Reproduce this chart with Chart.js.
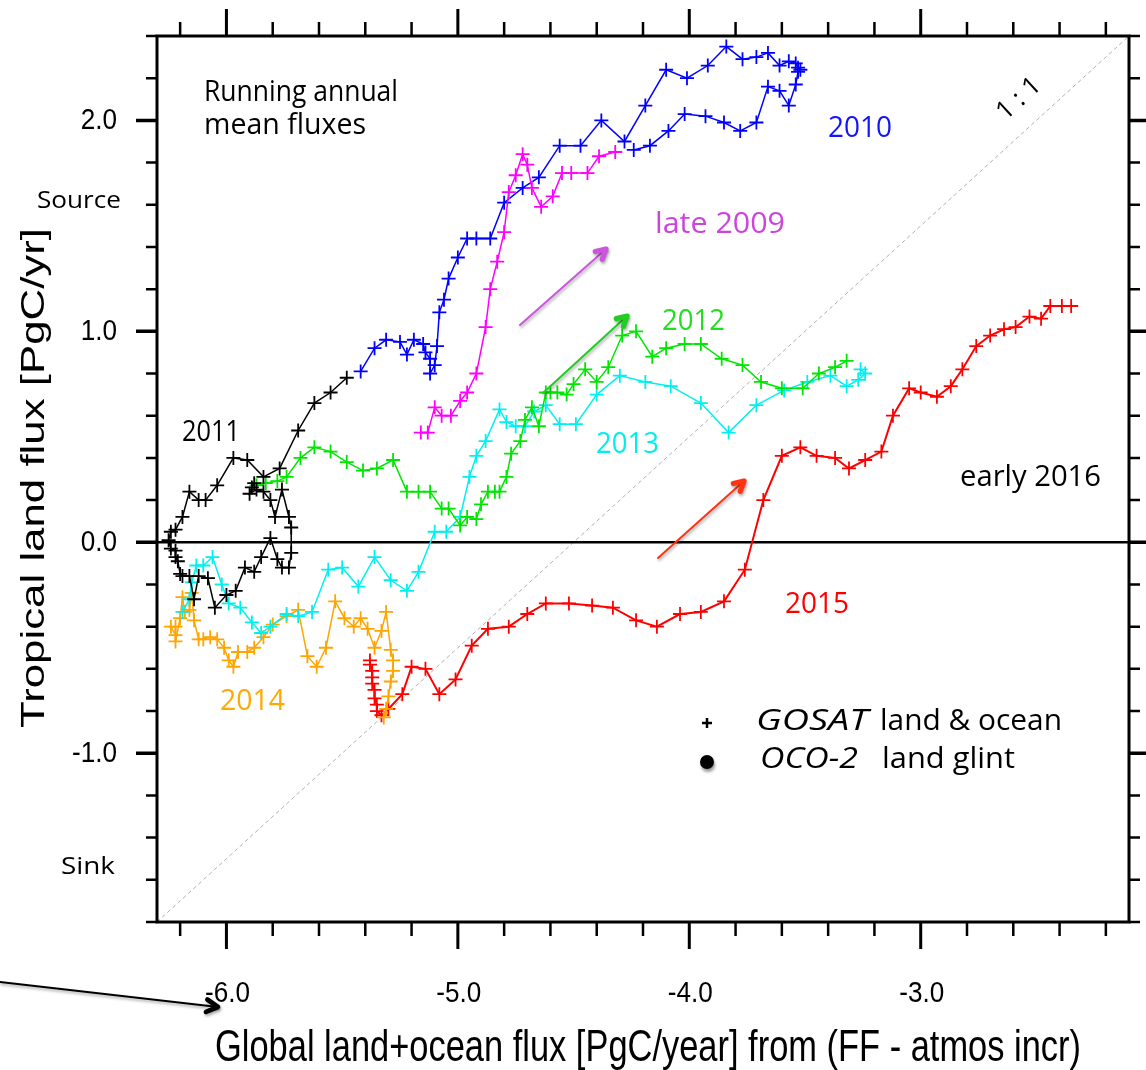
<!DOCTYPE html>
<html>
<head>
<meta charset="utf-8">
<script src="https://cdn.jsdelivr.net/npm/chart.js@4.4.1/dist/chart.umd.min.js"></script>
<style>
html, body { margin: 0; padding: 0; background: #fff; }
#wrap { width: 1146px; height: 1070px; }
</style>
</head>
<body>
<div id="wrap"><canvas id="fluxChart" width="1146" height="1070"></canvas></div>
<script>
// axes
var xMin = -6.3, xMax = -2.1;
var yMin = -1.8, yMax = 2.4;
var xTickValues = [-6, -5, -4, -3];
var xTickLabels = ["-6.0", "-5.0", "-4.0", "-3.0"];
var yTickValues = [-1, 0, 1, 2];
var yTickLabels = ["-1.0", "0.0", "1.0", "2.0"];
var minorStep = 0.2;

// late 2009
var late2009X = [-5.16,-5.13,-5.10,-5.07,-5.03,-4.99,-4.96,-4.92,-4.88,-4.86,-4.83,-4.80,-4.78,-4.75,-4.72,-4.70,-4.68,-4.64,-4.59,-4.55,-4.51,-4.44,-4.39,-4.32];
var late2009Y = [0.52,0.52,0.64,0.60,0.60,0.67,0.71,0.80,1.02,1.20,1.33,1.47,1.66,1.74,1.84,1.79,1.68,1.59,1.64,1.75,1.75,1.75,1.83,1.85];

// 2010
var y2010X = [-4.24,-4.17,-4.09,-4.02,-3.93,-3.85,-3.78,-3.71,-3.66,-3.61,-3.57,-3.54,-3.53,-3.52,-3.53,-3.54,-3.57,-3.61,-3.66,-3.71,-3.77,-3.84,-3.92,-4.01,-4.10,-4.19,-4.28,-4.38,-4.47,-4.56,-4.65,-4.72,-4.80,-4.86,-4.92,-4.96,-5.00,-5.04,-5.06,-5.08,-5.09,-5.10,-5.12,-5.12,-5.14,-5.15,-5.19,-5.22,-5.25,-5.31,-5.36,-5.42];
var y2010Y = [1.86,1.88,1.95,2.03,2.02,1.99,1.95,1.99,2.16,2.14,2.07,2.17,2.23,2.24,2.25,2.27,2.28,2.26,2.32,2.30,2.29,2.35,2.26,2.20,2.24,2.07,1.90,2.00,1.88,1.88,1.73,1.68,1.61,1.44,1.44,1.44,1.35,1.25,1.15,1.09,0.93,0.84,0.80,0.87,0.90,0.94,0.96,0.89,0.95,0.96,0.92,0.81];

// 2011
var y2011X = [-5.48,-5.55,-5.62,-5.69,-5.77,-5.84,-5.91,-5.97,-6.04,-6.09,-6.12,-6.16,-6.19,-6.22,-6.24,-6.25,-6.24,-6.22,-6.22,-6.21,-6.20,-6.19,-6.16,-6.14,-6.12,-6.08,-6.05,-6.00,-5.96,-5.92,-5.88,-5.85,-5.81,-5.78,-5.76,-5.73,-5.72,-5.72,-5.73,-5.76,-5.79,-5.81,-5.84,-5.87,-5.90,-5.89,-5.88];
var y2011Y = [0.78,0.71,0.66,0.53,0.35,0.31,0.39,0.40,0.27,0.20,0.20,0.24,0.12,0.06,0.05,0.01,-0.03,-0.04,-0.07,-0.09,-0.15,-0.16,-0.16,-0.27,-0.16,-0.17,-0.31,-0.25,-0.23,-0.12,-0.14,-0.07,0.02,-0.08,-0.12,-0.12,-0.05,0.07,0.12,0.25,0.12,0.20,0.24,0.25,0.23,0.26,0.28];

// 2012
var y2012X = [-5.87,-5.83,-5.78,-5.74,-5.68,-5.62,-5.55,-5.48,-5.41,-5.35,-5.28,-5.22,-5.17,-5.12,-5.07,-5.04,-4.99,-4.96,-4.92,-4.90,-4.87,-4.84,-4.82,-4.79,-4.77,-4.73,-4.71,-4.68,-4.65,-4.62,-4.60,-4.57,-4.53,-4.50,-4.45,-4.40,-4.35,-4.29,-4.23,-4.16,-4.10,-4.02,-3.95,-3.86,-3.77,-3.69,-3.60,-3.51,-3.44,-3.37,-3.32];
var y2012Y = [0.27,0.28,0.29,0.31,0.40,0.45,0.43,0.38,0.34,0.35,0.39,0.24,0.24,0.24,0.16,0.16,0.08,0.12,0.11,0.18,0.24,0.24,0.24,0.31,0.42,0.48,0.58,0.64,0.55,0.71,0.71,0.71,0.70,0.75,0.82,0.76,0.83,0.98,1.00,0.88,0.92,0.94,0.94,0.87,0.84,0.76,0.73,0.73,0.80,0.83,0.86];

// 2013
var y2013X = [-3.26,-3.24,-3.27,-3.32,-3.39,-3.49,-3.59,-3.71,-3.83,-3.95,-4.08,-4.19,-4.30,-4.40,-4.49,-4.56,-4.62,-4.67,-4.71,-4.75,-4.79,-4.82,-4.88,-4.92,-4.95,-4.99,-5.05,-5.10,-5.17,-5.22,-5.29,-5.36,-5.43,-5.50,-5.56,-5.63,-5.69,-5.74,-5.81,-5.85,-5.89,-5.94,-5.99,-6.02,-6.06,-6.10,-6.13,-6.15,-6.16,-6.19];
var y2013Y = [0.82,0.80,0.77,0.74,0.79,0.76,0.72,0.65,0.52,0.66,0.74,0.76,0.79,0.70,0.56,0.56,0.65,0.62,0.55,0.55,0.57,0.63,0.48,0.41,0.31,0.12,0.05,0.05,-0.14,-0.23,-0.18,-0.07,-0.21,-0.12,-0.13,-0.33,-0.35,-0.34,-0.40,-0.43,-0.38,-0.31,-0.29,-0.20,-0.07,-0.11,-0.11,-0.19,-0.27,-0.33];

// 2014
var y2014X = [-6.22,-6.24,-6.22,-6.22,-6.20,-6.19,-6.18,-6.16,-6.15,-6.14,-6.12,-6.10,-6.07,-6.04,-6.01,-5.99,-5.97,-5.95,-5.91,-5.88,-5.84,-5.80,-5.74,-5.69,-5.65,-5.61,-5.57,-5.53,-5.49,-5.45,-5.42,-5.39,-5.36,-5.33,-5.31,-5.29,-5.28,-5.28,-5.29,-5.30,-5.31,-5.32];
var y2014Y = [-0.40,-0.40,-0.44,-0.47,-0.36,-0.26,-0.33,-0.32,-0.24,-0.37,-0.46,-0.46,-0.45,-0.46,-0.50,-0.56,-0.59,-0.52,-0.52,-0.50,-0.45,-0.39,-0.35,-0.32,-0.54,-0.59,-0.50,-0.28,-0.36,-0.40,-0.36,-0.41,-0.50,-0.42,-0.33,-0.51,-0.56,-0.61,-0.66,-0.73,-0.79,-0.83];

// 2015 to early 2016
var y2015X = [-5.38,-5.38,-5.37,-5.37,-5.37,-5.36,-5.36,-5.35,-5.35,-5.33,-5.30,-5.24,-5.20,-5.14,-5.08,-5.01,-4.94,-4.87,-4.78,-4.70,-4.62,-4.52,-4.42,-4.33,-4.23,-4.14,-4.04,-3.95,-3.85,-3.76,-3.68,-3.60,-3.52,-3.45,-3.37,-3.31,-3.24,-3.17,-3.12,-3.05,-3.00,-2.93,-2.87,-2.82,-2.76,-2.70,-2.64,-2.59,-2.53,-2.48,-2.44,-2.39,-2.35];
var y2015Y = [-0.56,-0.58,-0.61,-0.64,-0.67,-0.70,-0.74,-0.77,-0.80,-0.82,-0.79,-0.72,-0.59,-0.60,-0.72,-0.65,-0.49,-0.41,-0.40,-0.34,-0.29,-0.29,-0.30,-0.31,-0.37,-0.40,-0.34,-0.33,-0.28,-0.13,0.20,0.41,0.45,0.41,0.40,0.35,0.39,0.43,0.60,0.73,0.71,0.69,0.74,0.82,0.93,0.98,1.01,1.02,1.07,1.06,1.12,1.12,1.12];

function pts(xs, ys) {
  var out = [];
  for (var i = 0; i < xs.length; i++) out.push({ x: xs[i], y: ys[i] });
  return out;
}

function series(xs, ys, color, lw) {
  return {
    data: pts(xs, ys),
    showLine: true,
    borderColor: color,
    backgroundColor: color,
    borderWidth: lw || 1.5,
    pointStyle: 'cross',
    pointRadius: 7,
    pointBorderWidth: 1.8,
    pointHoverRadius: 7,
    tension: 0
  };
}

var annoFont = '"Comic Sans MS", "Open Sans", sans-serif';
var axisFont = '"Liberation Sans", Arial, sans-serif';

// text squeezed or stretched to a given width
function fitText(ctx, str, x, y, width, font, color, align) {
  ctx.save();
  ctx.font = font;
  var s = width / ctx.measureText(str).width;
  ctx.translate(x, y);
  ctx.scale(s, 1);
  ctx.textAlign = align || 'left';
  ctx.textBaseline = 'middle';
  ctx.fillStyle = color || '#000';
  ctx.fillText(str, 0, 0);
  ctx.restore();
}

function arrow(ctx, x1, y1, x2, y2, color, lw, head, shadow) {
  var a = Math.atan2(y2 - y1, x2 - x1);
  ctx.save();
  ctx.strokeStyle = color;
  ctx.lineCap = 'round';
  ctx.lineJoin = 'round';
  if (shadow) {
    ctx.shadowColor = 'rgba(0,0,0,0.35)';
    ctx.shadowBlur = 3;
    ctx.shadowOffsetX = 1;
    ctx.shadowOffsetY = 2;
  }
  ctx.lineWidth = lw;
  ctx.beginPath();
  ctx.moveTo(x1, y1);
  ctx.lineTo(x2, y2);
  ctx.stroke();
  ctx.lineWidth = lw * 2.6;
  ctx.beginPath();
  ctx.moveTo(x2 - head * Math.cos(a - 0.5), y2 - head * Math.sin(a - 0.5));
  ctx.lineTo(x2, y2);
  ctx.lineTo(x2 - head * Math.cos(a + 0.5), y2 - head * Math.sin(a + 0.5));
  ctx.stroke();
  ctx.restore();
}

var decorPlugin = {
  id: 'decor',
  afterDraw: function (chart) {
    var ctx = chart.ctx, a = chart.chartArea;
    var sx = chart.scales.x, sy = chart.scales.y;
    ctx.save();

    // frame
    ctx.strokeStyle = '#000';
    ctx.lineWidth = 3;
    ctx.strokeRect(a.left, a.top, a.right - a.left, a.bottom - a.top);

    // ticks on all sides
    var k, v, p, major, len;
    for (k = Math.ceil(xMin / minorStep - 1e-9); k <= Math.floor(xMax / minorStep + 1e-9); k++) {
      v = k * minorStep;
      major = Math.abs(v - Math.round(v)) < 1e-6;
      p = sx.getPixelForValue(v);
      len = major ? 27 : 14;
      ctx.lineWidth = major ? 3 : 2.5;
      ctx.beginPath();
      ctx.moveTo(p, a.top); ctx.lineTo(p, a.top - len);
      ctx.moveTo(p, a.bottom); ctx.lineTo(p, a.bottom + len);
      ctx.stroke();
    }
    for (k = Math.ceil(yMin / minorStep - 1e-9); k <= Math.floor(yMax / minorStep + 1e-9); k++) {
      v = k * minorStep;
      major = Math.abs(v - Math.round(v)) < 1e-6;
      p = sy.getPixelForValue(v);
      len = major ? 21 : 11;
      ctx.lineWidth = major ? 3.5 : 2.5;
      ctx.beginPath();
      ctx.moveTo(a.left, p); ctx.lineTo(a.left - len, p);
      ctx.moveTo(a.right, p); ctx.lineTo(a.right + len, p);
      ctx.stroke();
    }

    // tick labels
    var i;
    for (i = 0; i < yTickValues.length; i++) {
      p = sy.getPixelForValue(yTickValues[i]);
      ctx.save();
      ctx.font = '29px ' + axisFont;
      ctx.translate(117, p + 1);
      ctx.scale(0.9, 1);
      ctx.textAlign = 'right';
      ctx.textBaseline = 'middle';
      ctx.fillStyle = '#000';
      ctx.fillText(yTickLabels[i], 0, 0);
      ctx.restore();
    }
    for (i = 0; i < xTickValues.length; i++) {
      p = sx.getPixelForValue(xTickValues[i]);
      ctx.save();
      ctx.font = '29px ' + axisFont;
      ctx.translate(p + 1, 994);
      ctx.scale(0.9, 1);
      ctx.textAlign = 'center';
      ctx.textBaseline = 'middle';
      ctx.fillStyle = '#000';
      ctx.fillText(xTickLabels[i], 0, 0);
      ctx.restore();
    }

    // axis titles
    ctx.save();
    ctx.font = '44px ' + axisFont;
    var yt = 'Tropical land flux [PgC/yr]';
    var ys = 500 / ctx.measureText(yt).width;
    ctx.translate(44, 478);
    ctx.rotate(-Math.PI / 2);
    ctx.scale(ys, 0.74);
    ctx.textAlign = 'center';
    ctx.textBaseline = 'alphabetic';
    ctx.fillStyle = '#000';
    ctx.fillText(yt, 0, 0);
    ctx.restore();

    ctx.save();
    ctx.font = '44px ' + axisFont;
    var xt = 'Global land+ocean flux [PgC/year] from (FF - atmos incr)';
    var xs = 866 / ctx.measureText(xt).width;
    ctx.translate(648, 1061);
    ctx.scale(xs, 1);
    ctx.textAlign = 'center';
    ctx.textBaseline = 'alphabetic';
    ctx.fillStyle = '#000';
    ctx.fillText(xt, 0, 0);
    ctx.restore();

    // annotations
    fitText(ctx, 'Running annual', 204, 93, 194, '29px ' + annoFont, '#000');
    fitText(ctx, 'mean fluxes', 204, 126, 162, '29px ' + annoFont, '#000');
    fitText(ctx, 'Source', 37, 201, 84, '23px ' + annoFont, '#000');
    fitText(ctx, 'Sink', 61, 867, 54, '23px ' + annoFont, '#000');
    fitText(ctx, '2010', 828, 129, 64, '29px ' + annoFont, '#1414ff');
    fitText(ctx, 'late 2009', 655, 225, 130, '29px ' + annoFont, '#cc44dd');
    fitText(ctx, '2012', 662, 322, 63, '29px ' + annoFont, '#22dd22');
    fitText(ctx, '2013', 596, 445, 63, '29px ' + annoFont, '#00eeee');
    fitText(ctx, '2011', 182, 433, 58, '29px ' + annoFont, '#000');
    fitText(ctx, 'early 2016', 960, 478, 141, '29px ' + annoFont, '#000');
    fitText(ctx, '2015', 785, 605, 64, '29px ' + annoFont, '#ff0000');
    fitText(ctx, '2014', 220, 702, 65, '29px ' + annoFont, '#ffaa00');

    // 1 : 1 label along the diagonal
    var d0x = sx.getPixelForValue(xMin), d0y = sy.getPixelForValue(yMin);
    var d1x = sx.getPixelForValue(xMax), d1y = sy.getPixelForValue(yMax);
    ctx.save();
    ctx.translate(1019, 99);
    ctx.rotate(Math.atan2(d1y - d0y, d1x - d0x));
    ctx.font = '26px ' + annoFont;
    ctx.textAlign = 'center';
    ctx.textBaseline = 'middle';
    ctx.fillStyle = '#000';
    ctx.fillText('1 : 1', 0, 0);
    ctx.restore();

    // legend
    ctx.save();
    ctx.strokeStyle = '#000';
    ctx.lineWidth = 2.5;
    ctx.beginPath();
    ctx.moveTo(702, 723); ctx.lineTo(712, 723);
    ctx.moveTo(707, 718); ctx.lineTo(707, 728);
    ctx.stroke();
    ctx.shadowColor = 'rgba(0,0,0,0.4)';
    ctx.shadowBlur = 3;
    ctx.shadowOffsetX = 1;
    ctx.shadowOffsetY = 3;
    ctx.fillStyle = '#000';
    ctx.beginPath();
    ctx.arc(707, 762, 7, 0, Math.PI * 2);
    ctx.fill();
    ctx.restore();
    fitText(ctx, 'GOSAT', 756, 722, 112, 'italic 29px ' + annoFont, '#000');
    fitText(ctx, 'land & ocean', 880, 722, 182, '29px ' + annoFont, '#000');
    fitText(ctx, 'OCO-2', 760, 760, 98, 'italic 29px ' + annoFont, '#000');
    fitText(ctx, 'land glint', 882, 760, 133, '29px ' + annoFont, '#000');

    // arrows
    arrow(ctx, 520, 325, 606, 249, '#cc55dd', 2, 11, true);
    arrow(ctx, 543, 393, 627, 316, '#22cc22', 2, 11, true);
    arrow(ctx, 658, 558, 744, 481, '#ff3311', 2, 11, true);
    arrow(ctx, 0, 982, 218, 1007, '#000', 1.8, 13, true);

    ctx.restore();
  }
};

var ctx = document.getElementById('fluxChart').getContext('2d');
var fluxChart = new Chart(ctx, {
  type: 'scatter',
  data: {
    datasets: [
      series(late2009X, late2009Y, '#ff00ff'),
      series(y2010X, y2010Y, '#0000ff'),
      series(y2011X, y2011Y, '#000000'),
      series(y2012X, y2012Y, '#00e600'),
      series(y2013X, y2013Y, '#00f0f0'),
      series(y2014X, y2014Y, '#ffa500'),
      series(y2015X, y2015Y, '#ff0000', 2),
      {
        // zero line
        data: [{ x: xMin, y: 0 }, { x: xMax, y: 0 }],
        showLine: true, borderColor: '#000', borderWidth: 2.5, pointRadius: 0
      },
      {
        // 1:1 line
        data: [{ x: xMin, y: yMin }, { x: xMax, y: yMax }],
        showLine: true, borderColor: '#b0b0b0', borderWidth: 1, borderDash: [4, 3], pointRadius: 0
      }
    ]
  },
  options: {
    responsive: false,
    animation: false,
    devicePixelRatio: 1,
    layout: { padding: { left: 157, top: 36, right: 17, bottom: 148 } },
    scales: {
      x: { type: 'linear', min: xMin, max: xMax, display: false },
      y: { type: 'linear', min: yMin, max: yMax, display: false }
    },
    plugins: {
      legend: { display: false },
      tooltip: { enabled: false }
    }
  },
  plugins: [decorPlugin]
});
</script>
</body>
</html>
